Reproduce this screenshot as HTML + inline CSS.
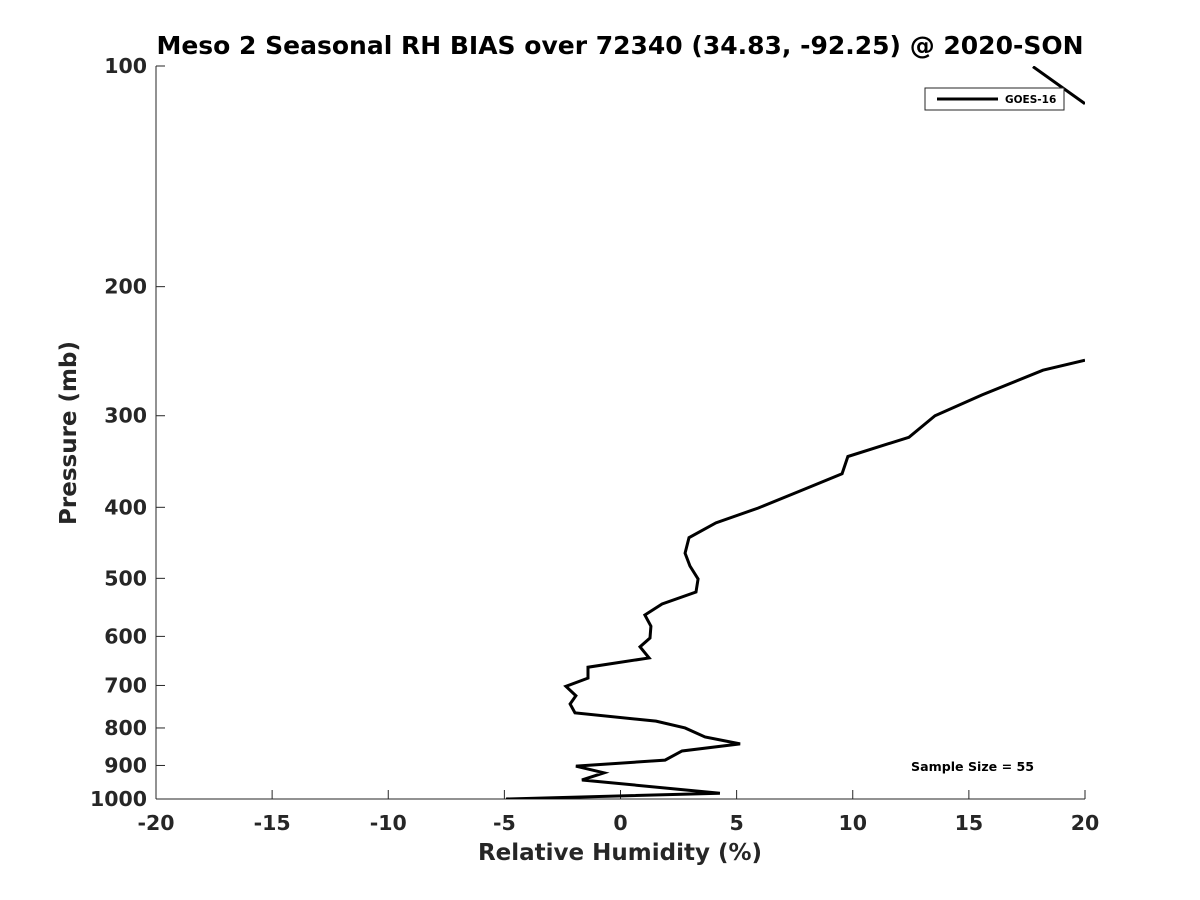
<!DOCTYPE html>
<html><head><meta charset="utf-8"><style>
html,body{margin:0;padding:0;background:#fff;}
svg{display:block;font-family:"DejaVu Sans","Liberation Sans",sans-serif;font-weight:bold;}
</style></head><body>
<svg id="chart" width="1200" height="900" viewBox="0 0 1200 900">
<rect x="0" y="0" width="1200" height="900" fill="#fff"/>
<text x="620" y="54" text-anchor="middle" font-size="25" fill="#000">Meso 2 Seasonal RH BIAS over 72340 (34.83, -92.25) @ 2020-SON</text>
<g id="axes"></g>
<defs><clipPath id="clip"><rect x="156" y="66" width="929" height="733"/></clipPath></defs>
<g clip-path="url(#clip)" id="series"></g>
<text x="620" y="860" text-anchor="middle" font-size="23" fill="#262626">Relative Humidity (%)</text>
<text transform="translate(76,433) rotate(-90)" text-anchor="middle" font-size="23" fill="#262626">Pressure (mb)</text>
<g>
<rect x="925" y="88" width="139" height="22" fill="#fff" stroke="#262626" stroke-width="1"/>
<line x1="937" y1="99" x2="998" y2="99" stroke="#000" stroke-width="3"/>
<text x="1005" y="103" font-size="10.5" fill="#000">GOES-16</text>
</g>
<text x="911" y="771" font-size="12.6" fill="#000">Sample Size = 55</text>
</svg>
<script>
const xTicks=[-20,-15,-10,-5,0,5,10,15,20];
const yTicks=[100,200,300,400,500,600,700,800,900,1000];
const seriesRH=[20,18.19,15.57,13.54,12.42,9.79,9.54,7.73,5.92,4.11,2.95,2.78,2.99,3.34,3.25,1.79,1.05,1.31,1.27,0.84,1.23,-1.40,-1.40,-2.35,-1.92,-2.17,-1.96,1.53,2.78,3.64,5.15,2.65,1.92,-1.92,-0.71,-1.66,4.28,-4.93];
const seriesP=[252,260,281,300,321,341,360,380,401,420,440,462,481,501,522,542,561,581,603,620,642,661,684,702,723,742,763,783,800,823,841,860,885,902,921,942,982,1000];
const topRH=[17.76,20];
const topP=[100.2,112.6];
const NS="http://www.w3.org/2000/svg";
const X0=156,X1=1085,Y0=66,Y1=799;
function xs(v){return X0+(v+20)/40*(X1-X0);}
function ys(p){return Y0+(Math.log10(p)-2)*(Y1-Y0);}
function mk(tag,attrs,parent){const e=document.createElementNS(NS,tag);for(const k in attrs)e.setAttribute(k,attrs[k]);parent.appendChild(e);return e;}
const axes=document.getElementById('axes');
const xa=mk('line',{x1:X0,y1:Y1,x2:X1,y2:Y1,stroke:'#262626','stroke-width':1},axes);


const ya=mk('line',{x1:X0,y1:Y0,x2:X0,y2:Y1,stroke:'#262626','stroke-width':1},axes);


xTicks.forEach(t=>{
 const x=xs(t);
 const tk=mk('line',{x1:x,y1:Y1,x2:x,y2:Y1-9,stroke:'#262626'},axes);
 
 
 const tx=mk('text',{x:x,y:830,'text-anchor':'middle','font-size':20.5,fill:'#262626'},axes);
 
 
 tx.textContent=t;
});
yTicks.forEach(t=>{
 const y=ys(t);
 const tk=mk('line',{x1:X0,y1:y,x2:X0+9,y2:y,stroke:'#262626'},axes);
 
 
 const tx=mk('text',{x:147,y:y+7,'text-anchor':'end','font-size':20.5,fill:'#262626'},axes);
 
 
 tx.textContent=t;
});
const ser=document.getElementById('series');
const l1=mk('polyline',{points:seriesRH.map((v,i)=>xs(v)+','+ys(seriesP[i])).join(' '),fill:'none',stroke:'#000','stroke-width':3,'stroke-linejoin':'miter'},ser);


const l2=mk('polyline',{points:topRH.map((v,i)=>xs(v)+','+ys(topP[i])).join(' '),fill:'none',stroke:'#000','stroke-width':3},ser);


</script>
</body></html>
